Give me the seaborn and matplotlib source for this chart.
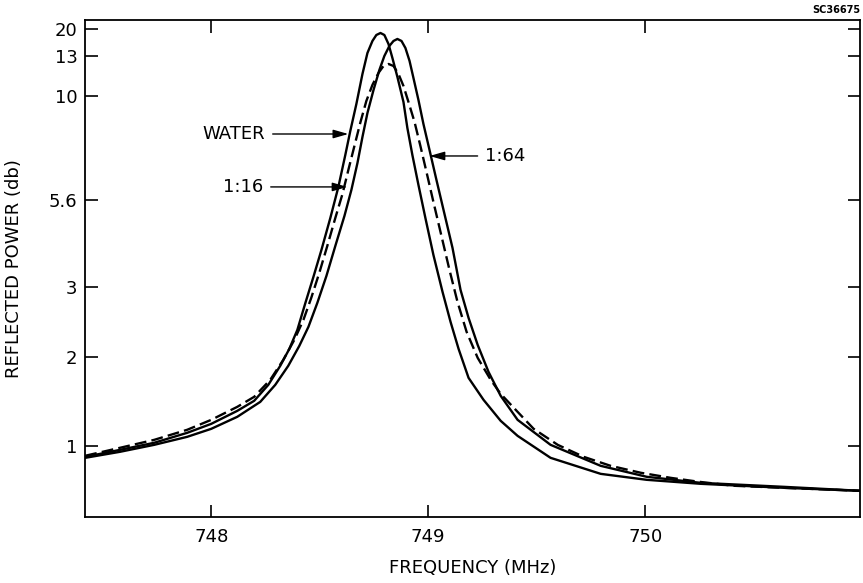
import numpy as np
import pandas as pd
import matplotlib
matplotlib.use("Agg")
import matplotlib.pyplot as plt
import seaborn as sns

# ---------------- data (frequency in MHz, reflected power in db) ----------------
water_f = [747.419, 747.580, 747.737, 747.889, 748.000, 748.120, 748.198, 748.263,
           748.318, 748.360, 748.397, 748.434, 748.471, 748.508, 748.549, 748.586,
           748.618, 748.641, 748.669, 748.697, 748.720, 748.743, 748.761, 748.780,
           748.798, 748.817, 748.835, 748.858, 748.886, 748.904, 748.927, 748.955,
           748.987, 749.024, 749.066, 749.103, 749.140, 749.186, 749.255, 749.334,
           749.412, 749.564, 749.795, 750.007, 750.256, 750.640, 750.995]
water_db = [0.876, 0.955, 1.034, 1.146, 1.247, 1.393, 1.506, 1.685,
            1.899, 2.114, 2.386, 2.771, 3.299, 4.106, 5.062, 6.150,
            7.504, 8.519, 9.662, 11.65, 13.78, 16.89, 18.44, 18.96,
            18.44, 16.11, 12.85, 11.43, 9.746, 8.646, 7.504, 6.235,
            5.062, 3.956, 2.929, 2.500, 2.114, 1.764, 1.517, 1.281,
            1.112, 0.865, 0.685, 0.618, 0.573, 0.528, 0.494]

r64_f = [747.419, 747.580, 747.737, 747.889, 748.000, 748.120, 748.226, 748.295,
         748.355, 748.406, 748.448, 748.489, 748.531, 748.572, 748.614, 748.646,
         748.674, 748.697, 748.720, 748.748, 748.775, 748.798, 748.821, 748.840,
         748.858, 748.877, 748.895, 748.914, 748.932, 748.955, 748.978, 749.006,
         749.038, 749.075, 749.112, 749.149, 749.186, 749.228, 749.278, 749.334,
         749.412, 749.564, 749.795, 750.007, 750.256, 750.640, 750.995]
r64_db = [0.865, 0.933, 1.011, 1.101, 1.191, 1.326, 1.494, 1.685,
          1.899, 2.157, 2.429, 2.771, 3.329, 4.225, 5.122, 6.023,
          7.165, 8.265, 9.281, 10.45, 11.95, 13.00, 15.59, 16.89,
          17.41, 16.89, 15.07, 12.63, 11.35, 9.831, 8.815, 7.715,
          6.446, 5.180, 4.166, 2.957, 2.557, 2.171, 1.831, 1.562,
          1.292, 1.011, 0.775, 0.652, 0.584, 0.539, 0.494]

r16_f = [747.419, 747.580, 747.737, 747.889, 748.000, 748.120, 748.198, 748.272,
         748.332, 748.383, 748.425, 748.461, 748.498, 748.535, 748.572, 748.605,
         748.632, 748.660, 748.688, 748.715, 748.743, 748.771, 748.794, 748.817,
         748.840, 748.863, 748.886, 748.909, 748.937, 748.964, 748.992, 749.024,
         749.061, 749.098, 749.135, 749.177, 749.228, 749.288, 749.334, 749.412,
         749.486, 749.597, 749.717, 749.841, 749.980, 750.118, 750.247, 750.409,
         750.640, 750.995]
r16_db = [0.888, 0.978, 1.067, 1.180, 1.292, 1.438, 1.551, 1.742,
          1.966, 2.243, 2.529, 2.843, 3.418, 4.225, 5.062, 5.854,
          6.869, 7.885, 8.900, 9.789, 10.83, 11.73, 12.25, 12.40,
          12.25, 11.65, 10.75, 9.746, 8.900, 7.885, 6.785, 5.540,
          4.524, 3.508, 2.786, 2.357, 1.989, 1.742, 1.584, 1.382,
          1.191, 1.011, 0.876, 0.775, 0.697, 0.640, 0.596, 0.551,
          0.528, 0.494]

x_ticks = [748, 749, 750]
y_ticks = [1, 2, 3, 5.6, 10, 13, 20]
y_tick_labels = ["1", "2", "3", "5.6", "10", "13", "20"]

# ---------------- nonuniform power axis (knots of the printed scale) ----------------
KDB = np.array([1, 2, 3, 5.6, 10, 13, 20], float)
KH = 517.0 - np.array([446, 357, 287, 200, 96, 56, 29], float)


def _extrap_interp(v, xs, ys):
    v = np.asarray(v, float)
    out = np.interp(v, xs, ys)
    s_lo = (ys[1] - ys[0]) / (xs[1] - xs[0])
    s_hi = (ys[-1] - ys[-2]) / (xs[-1] - xs[-2])
    out = np.where(v < xs[0], ys[0] + (v - xs[0]) * s_lo, out)
    out = np.where(v > xs[-1], ys[-1] + (v - xs[-1]) * s_hi, out)
    return out


def fwd(v):
    return _extrap_interp(v, KDB, KH)


def inv(h):
    return _extrap_interp(h, KH, KDB)


# ---------------- plotting ----------------
sns.set_style("ticks")
plt.rcParams["font.family"] = ["DejaVu Sans"]
plt.rcParams["axes.linewidth"] = 1.3
for key in ["text.color", "axes.labelcolor", "xtick.color", "ytick.color", "axes.edgecolor"]:
    plt.rcParams[key] = "black"

fig = plt.figure(figsize=(8.63, 5.83), dpi=100)
ax = fig.add_axes([84.5 / 863, 1 - 517 / 583, (860 - 84.5) / 863, (517 - 20) / 583])
ax.set_yscale("function", functions=(fwd, inv))

df_w = pd.DataFrame({"f": water_f, "db": water_db})
df_64 = pd.DataFrame({"f": r64_f, "db": r64_db})
df_16 = pd.DataFrame({"f": r16_f, "db": r16_db})

sns.lineplot(data=df_w, x="f", y="db", ax=ax, color="black", lw=1.7, estimator=None, sort=False)
sns.lineplot(data=df_64, x="f", y="db", ax=ax, color="black", lw=1.7, estimator=None, sort=False)
sns.lineplot(data=df_16, x="f", y="db", ax=ax, color="black", lw=1.7, estimator=None, sort=False)
ax.lines[-1].set_dashes((5, 2.2))
for ln in ax.lines:
    ln.set_solid_joinstyle("round")
    ln.set_dash_joinstyle("round")

ax.set_xlim(747.416, 750.99)
ax.set_ylim(0.2, 22.33)

ax.set_xticks(x_ticks)
ax.set_xticklabels([str(t) for t in x_ticks])
ax.set_yticks(y_ticks)
ax.set_yticklabels(y_tick_labels)
ax.minorticks_off()
ax.tick_params(axis="both", which="major", direction="in", length=9, width=1.2,
               top=True, right=True, labelsize=13, colors="black")
ax.tick_params(axis="x", pad=8)
ax.tick_params(axis="y", pad=5)

for sp in ax.spines.values():
    sp.set_visible(True)
    sp.set_color("black")
    sp.set_linewidth(1.3)

ax.set_xlabel("FREQUENCY (MHz)", fontsize=13, labelpad=9, color="black")
ax.set_ylabel("REFLECTED POWER (db)", fontsize=13, color="black")
ax.yaxis.set_label_coords(-0.079, 0.5)

arrow = dict(arrowstyle="-|>,head_length=0.7,head_width=0.2", color="black", lw=1.0,
             shrinkA=3, shrinkB=0)
ax.annotate("WATER", xy=(748.632, 8.39), xytext=(748.249, 8.39), fontsize=13,
            ha="right", va="center", arrowprops=arrow, color="black")
ax.annotate("1:16", xy=(748.628, 6.15), xytext=(748.240, 6.15), fontsize=13,
            ha="right", va="center", arrowprops=arrow, color="black")
ax.annotate("1:64", xy=(749.006, 7.46), xytext=(749.262, 7.46), fontsize=13,
            ha="left", va="center", arrowprops=arrow, color="black")

fig.text(860 / 863, 1 - 10 / 583, "SC36675", fontsize=7, fontweight="bold",
         ha="right", va="center", color="black")

fig.savefig("out.png", dpi=100)
